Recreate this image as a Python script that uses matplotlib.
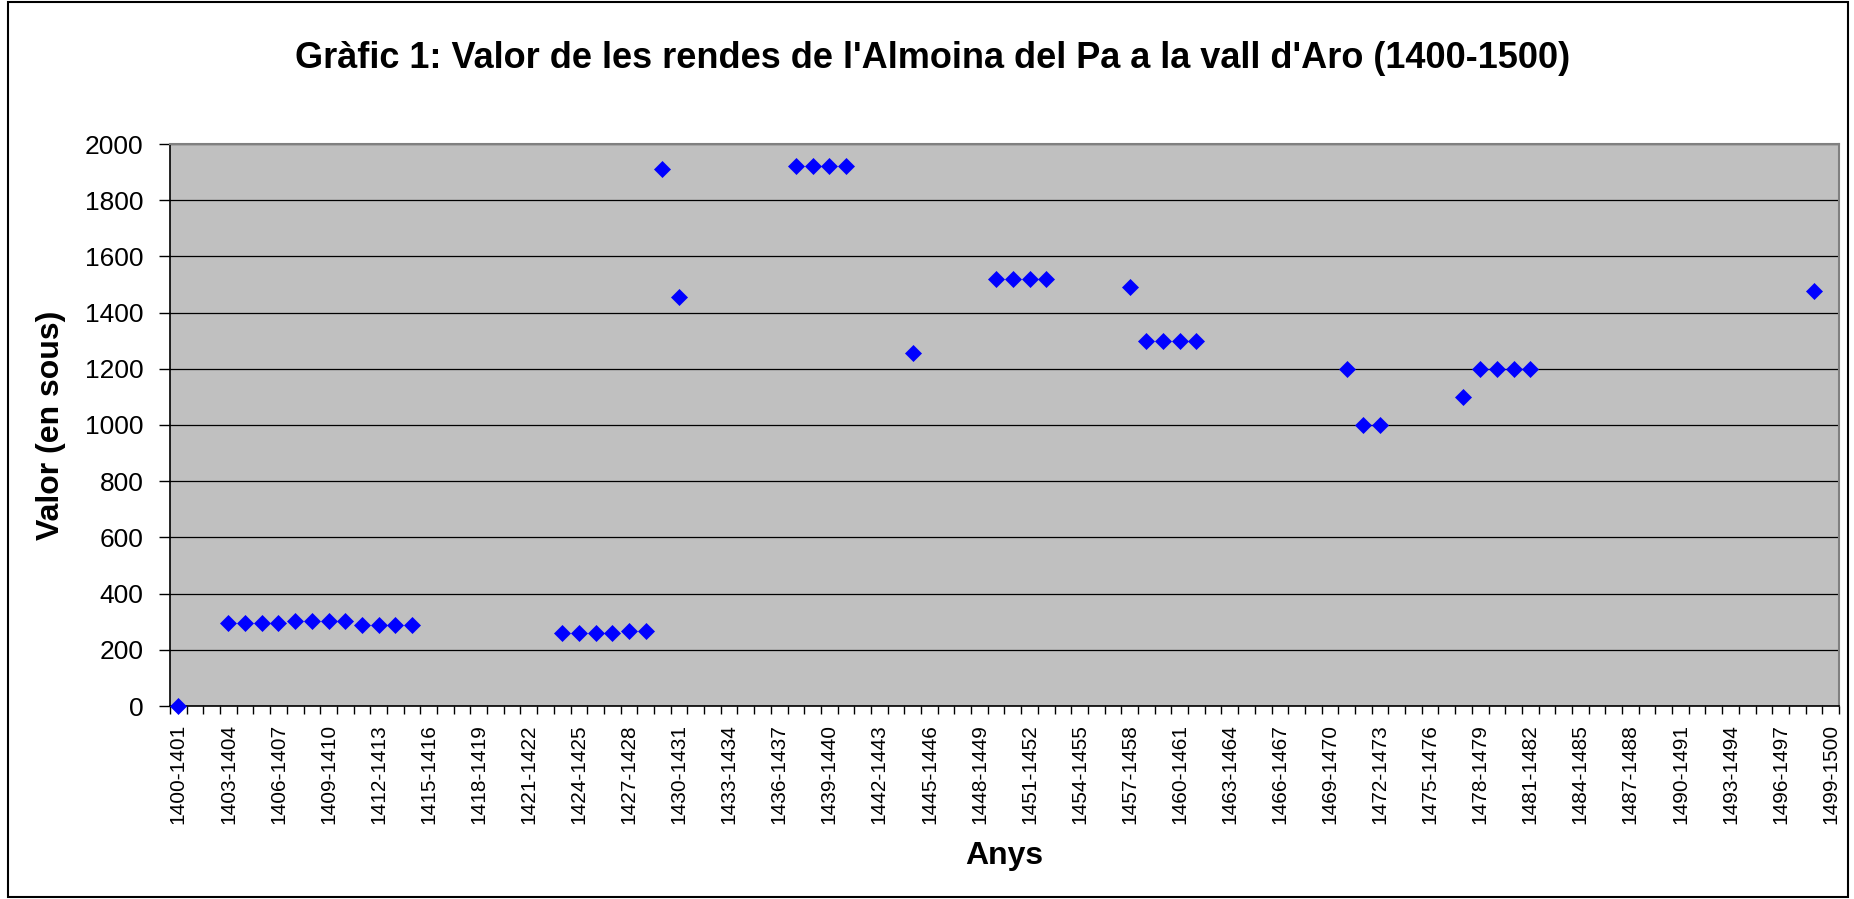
import numpy as np
import matplotlib
matplotlib.use('Agg')
import matplotlib.pyplot as plt
from matplotlib.patches import Rectangle

plt.rcParams['font.family'] = ['Liberation Sans', 'DejaVu Sans']

# categories: every period from 1400-1401 to 1499-1500
periodes = [f'{a}-{a + 1}' for a in range(1400, 1500)]

periodes_amb_valor = [
    '1400-1401',
    '1403-1404', '1404-1405', '1405-1406', '1406-1407',
    '1407-1408', '1408-1409', '1409-1410', '1410-1411',
    '1411-1412', '1412-1413', '1413-1414', '1414-1415',
    '1423-1424', '1424-1425', '1425-1426', '1426-1427', '1427-1428', '1428-1429',
    '1429-1430', '1430-1431',
    '1437-1438', '1438-1439', '1439-1440', '1440-1441',
    '1444-1445',
    '1449-1450', '1450-1451', '1451-1452', '1452-1453',
    '1457-1458',
    '1458-1459', '1459-1460', '1460-1461', '1461-1462',
    '1470-1471', '1471-1472', '1472-1473',
    '1477-1478',
    '1478-1479', '1479-1480', '1480-1481', '1481-1482',
    '1498-1499',
]
valors = [
    0,
    297, 297, 297, 297,
    303, 303, 303, 303,
    290, 290, 290, 290,
    260, 260, 260, 260, 267, 267,
    1910, 1455,
    1920, 1920, 1920, 1920,
    1258,
    1520, 1520, 1520, 1520,
    1490,
    1300, 1300, 1300, 1300,
    1200, 1000, 1000,
    1100,
    1200, 1200, 1200, 1200,
    1478,
]

titol = "Gràfic 1: Valor de les rendes de l'Almoina del Pa a la vall d'Aro (1400-1500)"

W, H = 1854, 899
fig = plt.figure(figsize=(W / 100, H / 100), dpi=100)
fig.patch.set_facecolor('white')

# outer frame of the chart
fig.patches.append(Rectangle((8 / W, 2 / H), (1848 - 8) / W, (897 - 2) / H,
                             transform=fig.transFigure, fill=False,
                             edgecolor='black', linewidth=1.5))

left, right, top, bottom = 170, 1839, 144, 706
ax = fig.add_axes([left / W, (H - bottom) / H, (right - left) / W, (bottom - top) / H])
ax.set_facecolor('#C0C0C0')

x = [periodes.index(p) for p in periodes_amb_valor]
ax.plot(x, valors, linestyle='none', marker='D', markersize=8.2,
        color='#0000FF', markeredgecolor='#0000FF', markeredgewidth=0.5,
        clip_on=False, zorder=5)

ax.set_xlim(-0.5, len(periodes) - 0.5)
ax.set_ylim(0, 2000)

# y axis
ax.set_yticks(np.arange(0, 2001, 200))
ax.tick_params(axis='y', direction='out', length=8, width=1, labelsize=19, pad=11)
ax.yaxis.grid(True, color='black', linewidth=0.9)
ax.set_axisbelow(True)

# x axis: ticks at category borders, labels every third category
ax.set_xticks(np.arange(-0.5, len(periodes), 1), minor=True)
pos = np.arange(0, len(periodes), 3)
ax.set_xticks(pos)
ax.set_xticklabels([periodes[i] for i in pos], rotation=90, ha='center', va='top')
ax.tick_params(axis='x', which='minor', direction='out', length=6, width=1)
ax.tick_params(axis='x', which='major', length=0, labelsize=15, pad=13)

for s in ['left', 'bottom']:
    ax.spines[s].set_color('black')
    ax.spines[s].set_linewidth(1.2)
for s in ['top', 'right']:
    ax.spines[s].set_color('#808080')
    ax.spines[s].set_linewidth(1.5)

fig.text(933 / W, (H - 59) / H, titol, ha='center', va='center',
         fontsize=26, fontweight='bold')
fig.text(51 / W, (H - 425) / H, 'Valor (en sous)', ha='center', va='center',
         rotation=90, fontsize=23, fontweight='bold')
fig.text(1004 / W, (H - 856) / H, 'Anys', ha='center', va='center',
         fontsize=23, fontweight='bold')

fig.savefig('out.png', dpi=100)
